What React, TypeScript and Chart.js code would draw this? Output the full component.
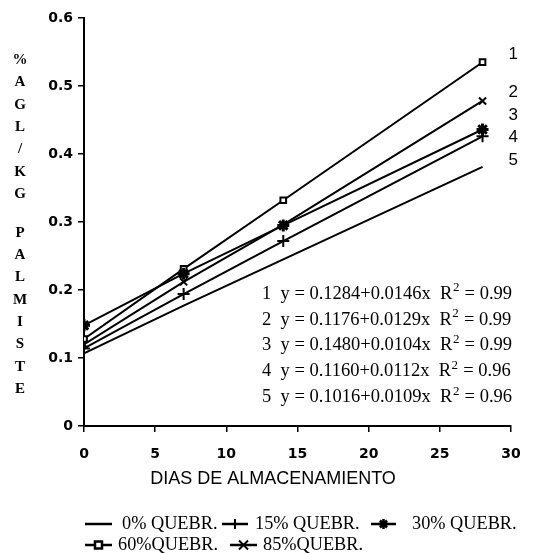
import React, { useEffect, useRef } from "react";
import { Chart, registerables } from "chart.js";

Chart.register(...registerables);

const days = [0, 7, 14, 28];
const q0 = [0.107, 0.177, 0.245, 0.381];
const q15 = [0.114, 0.194, 0.272, 0.426];
const q30 = [0.148, 0.224, 0.295, 0.436];
const q60 = [0.128, 0.231, 0.332, 0.535];
const q85 = [0.120, 0.212, 0.296, 0.478];

const seriesNames = ["0% QUEBR.", "15% QUEBR.", "30% QUEBR.", "60%QUEBR.", "85%QUEBR."];
const equations = [
  ["1  y = 0.1284+0.0146x  R", " = 0.99"],
  ["2  y = 0.1176+0.0129x  R", " = 0.99"],
  ["3  y = 0.1480+0.0104x  R", " = 0.99"],
  ["4  y = 0.1160+0.0112x  R", " = 0.96"],
  ["5  y = 0.1016+0.0109x  R", " = 0.96"],
];
const lineNumbers = ["1", "2", "3", "4", "5"];
const lineNumberY = [0.546, 0.49, 0.457, 0.424, 0.39];
const yTitle1 = ["%", "A", "G", "L", "/", "K", "G"];
const yTitle2 = ["P", "A", "L", "M", "I", "S", "T", "E"];
const xTitle = "DIAS DE ALMACENAMIENTO";

function drawMarker(ctx: CanvasRenderingContext2D, style: string, x: number, y: number) {
  ctx.save();
  ctx.strokeStyle = "#000";
  ctx.fillStyle = "#fff";
  ctx.lineWidth = 2;
  ctx.beginPath();
  if (style === "cross") {
    ctx.moveTo(x - 5, y); ctx.lineTo(x + 5, y);
    ctx.moveTo(x, y - 5); ctx.lineTo(x, y + 5);
    ctx.stroke();
  } else if (style === "star") {
    ctx.lineWidth = 2.5;
    ctx.moveTo(x - 5, y); ctx.lineTo(x + 5, y);
    ctx.moveTo(x, y - 5); ctx.lineTo(x, y + 5);
    ctx.moveTo(x - 3.5, y - 3.5); ctx.lineTo(x + 3.5, y + 3.5);
    ctx.moveTo(x - 3.5, y + 3.5); ctx.lineTo(x + 3.5, y - 3.5);
    ctx.stroke();
  } else if (style === "rect") {
    ctx.lineWidth = 2.5;
    ctx.rect(x - 3.5, y - 3.5, 7, 7);
    ctx.fill();
    ctx.stroke();
  } else if (style === "crossRot") {
    ctx.moveTo(x - 4.5, y - 4.5); ctx.lineTo(x + 4.5, y + 4.5);
    ctx.moveTo(x - 4.5, y + 4.5); ctx.lineTo(x + 4.5, y - 4.5);
    ctx.stroke();
  }
  ctx.restore();
}

const annotationPlugin = {
  id: "annotations",
  afterDraw(chart: any) {
    const ctx: CanvasRenderingContext2D = chart.ctx;
    const xs = chart.scales.x;
    const ys = chart.scales.y;
    ctx.save();
    ctx.fillStyle = "#000";

    // y title stacked letters
    ctx.font = "bold 15px 'Liberation Serif'";
    ctx.textAlign = "center";
    ctx.textBaseline = "middle";
    yTitle1.forEach((c, i) => ctx.fillText(c, 20, 60 + i * 22.4));
    yTitle2.forEach((c, i) => ctx.fillText(c, 20, 233 + i * 22.3));

    // x title
    ctx.font = "18px 'Liberation Sans'";
    ctx.fillText(xTitle, 273, 479);

    // line numbers
    ctx.font = "17px 'Liberation Sans'";
    ctx.textAlign = "left";
    lineNumbers.forEach((n, i) => {
      ctx.fillText(n, xs.getPixelForValue(28) + 26, ys.getPixelForValue(lineNumberY[i]));
    });

    // equations
    equations.forEach((eq, i) => {
      const y = 294 + i * 25.8;
      let x = 262;
      ctx.font = "18.5px 'Liberation Serif'";
      ctx.fillText(eq[0], x, y);
      x += ctx.measureText(eq[0]).width;
      ctx.font = "13px 'Liberation Serif'";
      ctx.fillText("2", x + 0.5, y - 6);
      x += ctx.measureText("2").width + 1;
      ctx.font = "18.5px 'Liberation Serif'";
      ctx.fillText(eq[1], x, y);
    });

    // legend
    const styles = ["none", "cross", "star", "rect", "crossRot"];
    const items = [
      { x0: 85, x1: 112, tx: 122, y: 524 },
      { x0: 222, x1: 248, tx: 255, y: 524 },
      { x0: 371, x1: 396, tx: 412, y: 524 },
      { x0: 85, x1: 112, tx: 118, y: 545 },
      { x0: 230, x1: 257, tx: 263, y: 545 },
    ];
    items.forEach((it, i) => {
      ctx.strokeStyle = "#000";
      ctx.lineWidth = 2.5;
      ctx.beginPath();
      ctx.moveTo(it.x0, it.y);
      ctx.lineTo(it.x1, it.y);
      ctx.stroke();
      if (styles[i] !== "none") drawMarker(ctx, styles[i], (it.x0 + it.x1) / 2, it.y);
      ctx.font = "18.3px 'Liberation Serif'";
      ctx.textAlign = "left";
      ctx.fillStyle = "#000";
      ctx.fillText(seriesNames[i], it.tx, it.y);
    });
    ctx.restore();
  },
};

export default function App() {
  const ref = useRef<HTMLCanvasElement>(null);
  useEffect(() => {
    const mk = (data: number[], pointStyle: any, radius: number, bw: number) => ({
      data: days.map((d, i) => ({ x: d, y: data[i] })),
      borderColor: "#000",
      backgroundColor: "#fff",
      borderWidth: 2,
      pointStyle,
      pointRadius: radius,
      pointBorderWidth: bw,
      pointBorderColor: "#000",
      pointBackgroundColor: "#fff",
      tension: 0,
    });
    const chart = new Chart(ref.current!, {
      type: "line",
      data: {
        datasets: [
          { label: seriesNames[0], ...mk(q0, false, 0, 0) },
          { label: seriesNames[1], ...mk(q15, "cross", 6, 2) },
          { label: seriesNames[2], ...mk(q30, "star", 6, 3) },
          { label: seriesNames[3], ...mk(q60, "rect", 4, 2) },
          { label: seriesNames[4], ...mk(q85, "crossRot", 5, 2) },
        ] as any,
      },
      options: {
        animation: false,
        responsive: false,
        devicePixelRatio: 1,
        layout: { padding: { top: 18, right: 24, left: 0, bottom: 0 } },
        plugins: { legend: { display: false }, tooltip: { enabled: false } },
        scales: {
          x: {
            type: "linear",
            min: 0,
            max: 30,
            ticks: {
              stepSize: 5,
              padding: 14,
              color: "#000",
              font: { family: "'DejaVu Sans'", weight: "bold", size: 14 },
            },
            grid: { drawOnChartArea: false, drawTicks: true, tickLength: 6, color: "#000", lineWidth: 1.5 },
            border: { display: true, color: "#000", width: 2 },
            afterFit(scale: any) { scale.height = 128; },
          },
          y: {
            min: 0,
            max: 0.6,
            ticks: {
              stepSize: 0.1,
              padding: 5,
              color: "#000",
              font: { family: "'DejaVu Sans'", weight: "bold", size: 14 },
              callback: (v: any) => (v === 0 ? "0" : Number(v).toFixed(1)),
            },
            grid: { drawOnChartArea: false, drawTicks: true, tickLength: 6, color: "#000", lineWidth: 1.5 },
            border: { display: true, color: "#000", width: 2 },
            afterFit(scale: any) { scale.width = 84; },
          },
        },
      } as any,
      plugins: [annotationPlugin],
    });
    return () => chart.destroy();
  }, []);
  return (
    <div style={{ position: "absolute", left: 0, top: 0, width: 535, height: 554, background: "#fff" }}>
      <canvas ref={ref} width={535} height={554} style={{ display: "block" }} />
    </div>
  );
}
